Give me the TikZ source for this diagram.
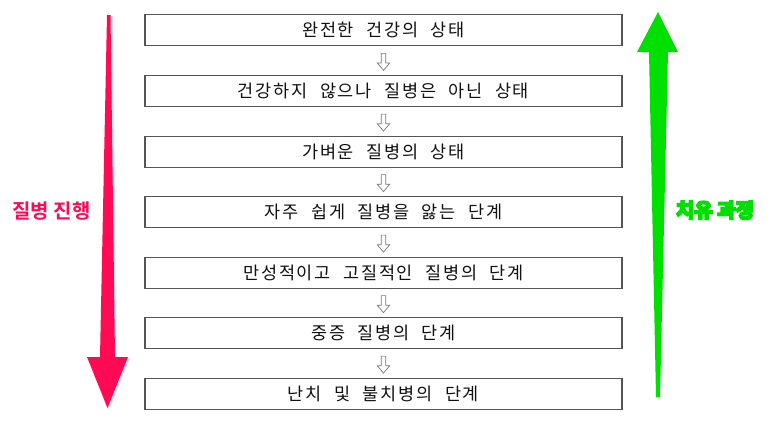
\documentclass[tikz,border=0pt]{standalone}
\usepackage{fontspec}
\usetikzlibrary{shapes.arrows,calc}
\newfontfamily\kr[LetterSpace=10,WordSpace=2.2]{Noto Sans CJK KR}
\newfontfamily\krb{Noto Sans CJK KR Bold}
\definecolor{boxline}{HTML}{555555}
\definecolor{txt}{HTML}{111111}
\definecolor{redarrow}{HTML}{FF0A55}
\definecolor{greenarrow}{HTML}{00E000}
\newcommand\outlinetext[2]{\leavevmode\special{pdf:literal direct 2 Tr 1.9 w 0.1 0.1 0.1 RG}\textcolor{#1}{#2}\special{pdf:literal direct 0 Tr}}
\tikzset{
  stage/.style={draw=boxline, line width=1.1pt, fill=white, minimum width=477pt, minimum height=31pt, inner sep=0pt, font=\kr\fontsize{17.5pt}{19pt}\selectfont, text=txt, anchor=north},
  hollow/.style={single arrow, draw=boxline!80, line width=0.7pt, fill=white, shape border rotate=270, minimum width=12.5pt, minimum height=17pt, single arrow head extend=3pt, single arrow tip angle=80, inner sep=1.3pt},
  label/.style={font=\krb\fontsize{20pt}{22pt}\selectfont, inner sep=0pt},
}
\begin{document}
\begin{tikzpicture}[x=1pt,y=-1pt]
\useasboundingbox (0,0) rectangle (773,423);
\fill[white] (0,0) rectangle (773,423);
% big arrows
\fill[gray!40, opacity=0.5] (110,16) -- (113,16) -- (116,358) -- (130,358) -- (109,410) -- (89,358) -- (103,358) -- cycle;
\fill[redarrow] (107,15) -- (110.5,15) -- (115,357) -- (128,357) -- (107.5,408) -- (87,357) -- (100,357) -- cycle;
\fill[greenarrow] (658,12) -- (678,52) -- (668,52) -- (660,397) -- (656,397) -- (649,52) -- (637,52) -- cycle;
% boxes
\node[stage] (s1) at (383.5,14) {완전한 건강의 상태};
\node[stage] (s2) at (383.5,75) {건강하지 않으나 질병은 아닌 상태};
\node[stage] (s3) at (383.5,135.5) {가벼운 질병의 상태};
\node[stage] (s4) at (383.5,196) {자주 쉽게 질병을 앓는 단계};
\node[stage] (s5) at (383.5,256.5) {만성적이고 고질적인 질병의 단계};
\node[stage] (s6) at (383.5,317) {중증 질병의 단계};
\node[stage] (s7) at (383.5,377.5) {난치 및 불치병의 단계};
\foreach \a/\b in {s1/s2,s2/s3,s3/s4,s4/s5,s5/s6,s6/s7}
  \node[hollow] (h\a) at ($(\a.south)!0.5!(\b.north)$) {};
% labels
\node[label, text=redarrow] (lbl1) at (51.5,211) {질병 진행};
\node[label] (lbl2) at (715,210) {\outlinetext{greenarrow}{치유 과정}};
\end{tikzpicture}
\end{document}
